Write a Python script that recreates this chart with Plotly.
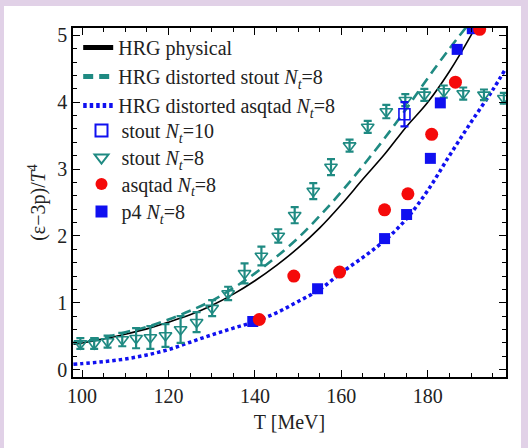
import plotly.graph_objects as go

# ---------------- data ----------------
T_curve = [98, 100, 105, 110, 115, 120, 125, 130, 135, 140, 145, 150,
           155, 160, 165, 170, 175, 180, 185, 190, 191]
hrg_phys = [0.38, 0.40, 0.46, 0.53, 0.61, 0.71, 0.82, 0.96, 1.13, 1.33, 1.56, 1.82,
            2.12, 2.47, 2.85, 3.22, 3.63, 4.00, 4.46, 5.00, 5.12]

T_stout_curve = [98, 100, 105, 110, 115, 120, 125, 130, 135, 140, 145, 150,
                 155, 160, 165, 170, 175, 180, 185, 189]
hrg_stout = [0.40, 0.42, 0.48, 0.56, 0.64, 0.75, 0.88, 1.03, 1.22, 1.44, 1.69, 1.97,
             2.30, 2.66, 3.05, 3.46, 3.90, 4.36, 4.80, 5.13]

T_asq_curve = [98, 100, 105, 110, 115, 120, 125, 130, 135, 140, 145, 150,
               155, 160, 165, 170, 175, 180, 185, 190, 195, 198]
hrg_asqtad = [0.08, 0.09, 0.12, 0.16, 0.22, 0.30, 0.41, 0.52, 0.62, 0.72, 0.85, 1.02,
              1.20, 1.45, 1.68, 1.93, 2.25, 2.68, 3.20, 3.70, 4.18, 4.50]

T_stout10 = [174.6]
stout10 = [3.82]
stout10_err = [0.18]

T_stout8 = [99.6, 102.8, 105.9, 109.3, 112.5, 115.8, 119.3, 122.8, 126.5, 130.1,
            133.8, 137.6, 141.5, 145.4, 149.2, 153.5, 157.6, 161.9, 166.1, 170.4,
            174.8, 179.2, 183.7, 188.2, 193.0, 197.6]
stout8 = [0.39, 0.39, 0.42, 0.45, 0.47, 0.48, 0.51, 0.60, 0.71, 0.92,
          1.14, 1.44, 1.70, 2.00, 2.31, 2.67, 3.03, 3.35, 3.63, 3.86,
          4.03, 4.11, 4.16, 4.13, 4.11, 4.06]
stout8_err = [0.08, 0.08, 0.09, 0.10, 0.15, 0.17, 0.17, 0.20, 0.15, 0.12,
              0.10, 0.15, 0.14, 0.10, 0.12, 0.12, 0.12, 0.09, 0.09, 0.10,
              0.09, 0.09, 0.09, 0.09, 0.08, 0.08]

T_asqtad = [141.0, 149.0, 159.6, 170.0, 175.4, 180.9, 186.4, 192.0]
asqtad = [0.75, 1.40, 1.46, 2.39, 2.63, 3.52, 4.30, 5.09]

T_p4 = [139.5, 154.5, 170.0, 175.1, 180.6, 182.9, 186.8, 190.3]
p4 = [0.72, 1.21, 1.96, 2.32, 3.16, 3.99, 4.79, 5.10]

x_ticks = [100, 120, 140, 160, 180]
y_ticks = [0, 1, 2, 3, 4, 5]

# ---------------- styles ----------------
TEAL = "#1f8a82"
BLUE = "#1010f0"
RED = "#f50a0a"
FONT = "Liberation Serif"

fig = go.Figure()

fig.add_trace(go.Scatter(x=T_curve, y=hrg_phys, mode="lines", name="HRG physical",
                         line=dict(color="black", width=1.6, shape="spline"),
                         legend="legend", legendrank=1))
fig.add_trace(go.Scatter(x=T_stout_curve, y=hrg_stout, mode="lines",
                         name="HRG distorted stout <i>N<sub>t</sub></i>=8",
                         line=dict(color=TEAL, width=2.6, dash="10px,6px", shape="spline"),
                         legend="legend", legendrank=2))
fig.add_trace(go.Scatter(x=T_asq_curve, y=hrg_asqtad, mode="lines",
                         name="HRG distorted asqtad <i>N<sub>t</sub></i>=8",
                         line=dict(color=BLUE, width=3.5, dash="3.5px,3px", shape="spline"),
                         legend="legend", legendrank=3))
fig.add_trace(go.Scatter(x=T_stout8, y=stout8, mode="markers",
                         name="stout <i>N<sub>t</sub></i>=8",
                         marker=dict(symbol="triangle-down-open", size=11, color=TEAL,
                                     line=dict(width=1.6, color=TEAL)),
                         error_y=dict(type="data", array=stout8_err, color=TEAL,
                                      thickness=2.2, width=4),
                         legend="legend3"))
fig.add_trace(go.Scatter(x=T_stout10, y=stout10, mode="markers",
                         name="stout <i>N<sub>t</sub></i>=10",
                         marker=dict(symbol="square-open", size=11, color=BLUE,
                                     line=dict(width=1.6, color=BLUE)),
                         error_y=dict(type="data", array=stout10_err, color=BLUE,
                                      thickness=2.2, width=4),
                         legend="legend2"))
fig.add_trace(go.Scatter(x=T_p4, y=p4, mode="markers", name="p4 <i>N<sub>t</sub></i>=8",
                         marker=dict(symbol="square", size=11, color=BLUE),
                         legend="legend5"))
fig.add_trace(go.Scatter(x=T_asqtad, y=asqtad, mode="markers",
                         name="asqtad <i>N<sub>t</sub></i>=8",
                         marker=dict(symbol="circle", size=13, color=RED),
                         legend="legend4"))

# plot area: x 73..506, y 28..377 (pixels)
L, R, Tp, B = 73, 506, 28, 377
W, H = 528, 448
pw, ph = R - L, B - Tp

def px(xpix):
    return (xpix - L) / pw

def py(ypix):
    return (B - ypix) / ph

fig.add_shape(type="rect", xref="paper", yref="paper",
              x0=px(4), x1=px(521), y0=py(448), y1=py(6),
              fillcolor="white", line=dict(width=0), layer="below")

axis_common = dict(showgrid=False, zeroline=False, showline=True, linecolor="black",
                   linewidth=1.5, mirror="ticks", ticks="inside", ticklen=7,
                   tickwidth=1.2, tickcolor="black",
                   tickfont=dict(family=FONT, size=20, color="#222"))

fig.update_xaxes(range=[97.9, 198.1], tickvals=x_ticks,
                 minor=dict(ticks="inside", ticklen=4, dtick=5, tick0=100,
                            tickcolor="black", tickwidth=1.1),
                 title=dict(text="T [MeV]", font=dict(family=FONT, size=20, color="#222"),
                            standoff=9),
                 **axis_common)
fig.update_yaxes(range=[-0.11, 5.11], tickvals=y_ticks,
                 minor=dict(ticks="inside", ticklen=4, dtick=0.2, tick0=0,
                            tickcolor="black", tickwidth=1.1),
                 title=dict(text="(ε−3p)/<i>T</i><sup>4</sup>",
                            font=dict(family=FONT, size=20, color="#222"), standoff=6),
                 **axis_common)

leg_common = dict(xanchor="left", yanchor="top", bgcolor="rgba(0,0,0,0)", borderwidth=0,
                  font=dict(family=FONT, size=20, color="#222"),
                  tracegroupgap=0, itemwidth=30, itemsizing="constant")

mx = px(81.5)
fig.update_layout(
    width=W, height=H,
    margin=dict(l=L, r=W - R, t=Tp, b=H - B, autoexpand=False),
    paper_bgcolor="#e1d1e7",
    plot_bgcolor="white",
    font=dict(family=FONT, size=20, color="#222"),
    legend=dict(x=0.012, y=py(28), **leg_common),
    legend2=dict(x=mx, y=py(111), **leg_common),
    legend3=dict(x=mx, y=py(138), **leg_common),
    legend4=dict(x=mx, y=py(164.5), **leg_common),
    legend5=dict(x=mx, y=py(192), **leg_common),
    showlegend=True,
)

fig.write_html("out.html", config={"displayModeBar": False},
               post_script="document.body.style.margin='0';document.body.style.padding='0';")
